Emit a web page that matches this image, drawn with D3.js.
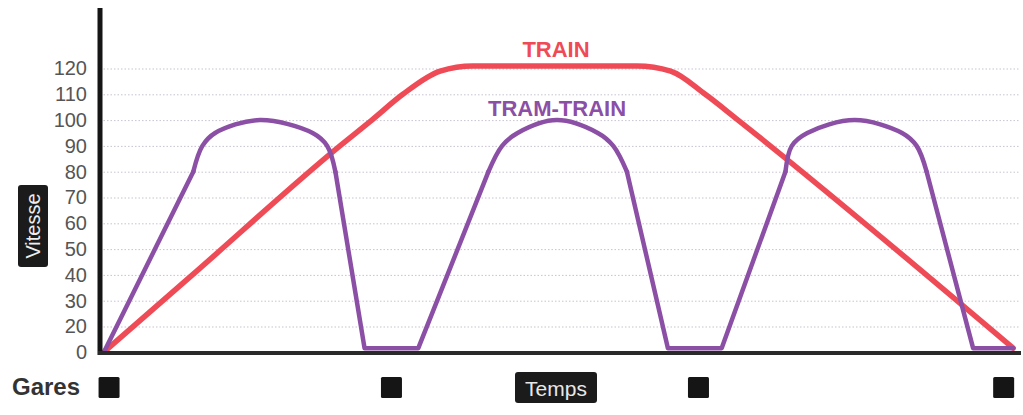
<!DOCTYPE html>
<html>
<head>
<meta charset="utf-8">
<script src="https://cdn.jsdelivr.net/npm/d3@7"></script>
<style>
  body { margin: 0; background: #fff; }
  #chart { width: 1023px; height: 415px; }
</style>
</head>
<body>
<div id="chart"></div>
<script>
// Data (time in arbitrary units 0-100, speed in km/h)
// Note: the axis has no "10" label, the first gridline above 0 is 20
var speedTicks = [0, 20, 30, 40, 50, 60, 70, 80, 90, 100, 110, 120];

var trainTime  = [0, 9.7, 25.9, 29.4, 32.8, 36.9, 40.5, 58.5, 62.2, 66.0, 69.6, 99.8];
var trainSpeed = [0, 40, 90, 100, 110, 119, 121, 121, 119, 110, 100, 3];

var tramTime  = [0, 9.8, 10.8, 12.2, 17.1, 22.9, 24.5, 25.4, 28.6, 34.5,
                 42.2, 43.7, 45.4, 49.7, 54.2, 55.9, 57.4, 61.9, 67.8,
                 74.8, 75.5, 77.2, 82.4, 87.6, 89.2, 90.3, 95.4, 99.8];
var tramSpeed = [0, 80, 90, 95, 100, 95, 90, 80, 3, 3,
                 80, 90, 95, 100, 95, 90, 80, 3, 3,
                 80, 90, 95, 100, 95, 90, 80, 3, 3];

var garesTime = [0.5, 31.5, 65.2, 98.7];

var labels = {train: "TRAIN", tram: "TRAM-TRAIN", y: "Vitesse", x: "Temps", gares: "Gares"};

var red = "#ef4b56";
var purple = "#8b4fa5";
var font = "'Liberation Sans', Arial, sans-serif";

// Screen
var W = 1023, H = 415;
var svg = d3.select("#chart")
            .append("svg")
            .attr("width", W)
            .attr("height", H)
            .style("display", "block");

// Scales (0 -> 20 takes one gridline step, like the other 10s)
var x = d3.scaleLinear().domain([0, 100]).range([104, 1015]);
var y = d3.scaleLinear().domain([0, 20, 120]).range([352, 326.5, 68.5]);

// Dotted grid
var leftAxis = d3.axisLeft(y).tickValues(speedTicks);
svg.append("g")
   .attr("transform", "translate(100,0)")
   .call(leftAxis.tickSize(-920).tickFormat(""))
   .call(g => g.select(".domain").remove())
   .selectAll("line")
   .attr("stroke", "#b9b4c4")
   .attr("stroke-width", 1)
   .attr("stroke-dasharray", "1.5 2")
   .attr("opacity", 0.8);

// Tick labels
svg.append("g")
   .attr("transform", "translate(100,0)")
   .call(d3.axisLeft(y).tickValues(speedTicks).tickSize(0).tickPadding(13))
   .call(g => g.select(".domain").remove())
   .selectAll("text")
   .attr("font-family", font)
   .attr("font-size", 20)
   .attr("fill", "#555");

// Speed profile: straight ramps, rounded part above the knee speed
function profile(times, speeds, knee, curve, color, width) {
    var pts = times.map((t, i) => [x(t), y(speeds[i])]);
    var segs = [];
    for (var i = 0; i < pts.length - 1; ++i) {
        var round = speeds[i] >= knee && speeds[i + 1] >= knee;
        var last = segs[segs.length - 1];
        if (last && last.round === round) last.pts.push(pts[i + 1]);
        else segs.push({round: round, pts: [pts[i], pts[i + 1]]});
    }
    var straight = d3.line();
    var rounded = d3.line().curve(curve);

    svg.append("g")
       .selectAll("path")
       .data(segs)
       .enter().append("path")
       .attr("d", d => (d.round ? rounded : straight)(d.pts))
       .attr("fill", "none")
       .attr("stroke", color)
       .attr("stroke-width", width)
       .attr("stroke-linejoin", "round")
       .attr("stroke-linecap", "round");
}

profile(trainTime, trainSpeed, 0, d3.curveMonotoneX, red, 5.5);
profile(tramTime, tramSpeed, 80, d3.curveCatmullRom.alpha(0.5), purple, 4.5);

// Axes lines
svg.append("line")
   .attr("x1", 100).attr("x2", 100)
   .attr("y1", 8).attr("y2", 355)
   .attr("stroke", "#151515")
   .attr("stroke-width", 5);
svg.append("line")
   .attr("x1", 98).attr("x2", 1021)
   .attr("y1", 353).attr("y2", 353)
   .attr("stroke", "#2a2a2a")
   .attr("stroke-width", 4);

// Series labels
svg.append("text")
   .attr("x", 556).attr("y", 57)
   .attr("text-anchor", "middle")
   .attr("font-family", font)
   .attr("font-size", 22)
   .attr("font-weight", "bold")
   .attr("fill", red)
   .text(labels.train);
svg.append("text")
   .attr("x", 557).attr("y", 116)
   .attr("text-anchor", "middle")
   .attr("font-family", font)
   .attr("font-size", 22)
   .attr("font-weight", "bold")
   .attr("fill", purple)
   .text(labels.tram);

// Vitesse box
svg.append("rect")
   .attr("x", 18).attr("y", 185)
   .attr("width", 30).attr("height", 82)
   .attr("rx", 3)
   .attr("fill", "#1b1b1b");
svg.append("text")
   .attr("transform", "translate(33,226) rotate(-90)")
   .attr("text-anchor", "middle")
   .attr("dominant-baseline", "central")
   .attr("font-family", font)
   .attr("font-size", 20)
   .attr("fill", "#eee")
   .text(labels.y);

// Temps box
svg.append("rect")
   .attr("x", 515).attr("y", 372)
   .attr("width", 82).attr("height", 31)
   .attr("rx", 3)
   .attr("fill", "#1b1b1b");
svg.append("text")
   .attr("x", 556).attr("y", 388)
   .attr("text-anchor", "middle")
   .attr("dominant-baseline", "central")
   .attr("font-family", font)
   .attr("font-size", 21)
   .attr("fill", "#e8e8e8")
   .text(labels.x);

// Gares
svg.append("text")
   .attr("x", 12).attr("y", 395)
   .attr("font-family", font)
   .attr("font-size", 24)
   .attr("font-weight", "bold")
   .attr("fill", "#333")
   .text(labels.gares);

svg.selectAll("rect.gare")
   .data(garesTime)
   .enter().append("rect")
   .attr("class", "gare")
   .attr("x", d => x(d) - 10)
   .attr("y", 377)
   .attr("width", 21)
   .attr("height", 21)
   .attr("rx", 1.5)
   .attr("fill", "#151515");
</script>
</body>
</html>
